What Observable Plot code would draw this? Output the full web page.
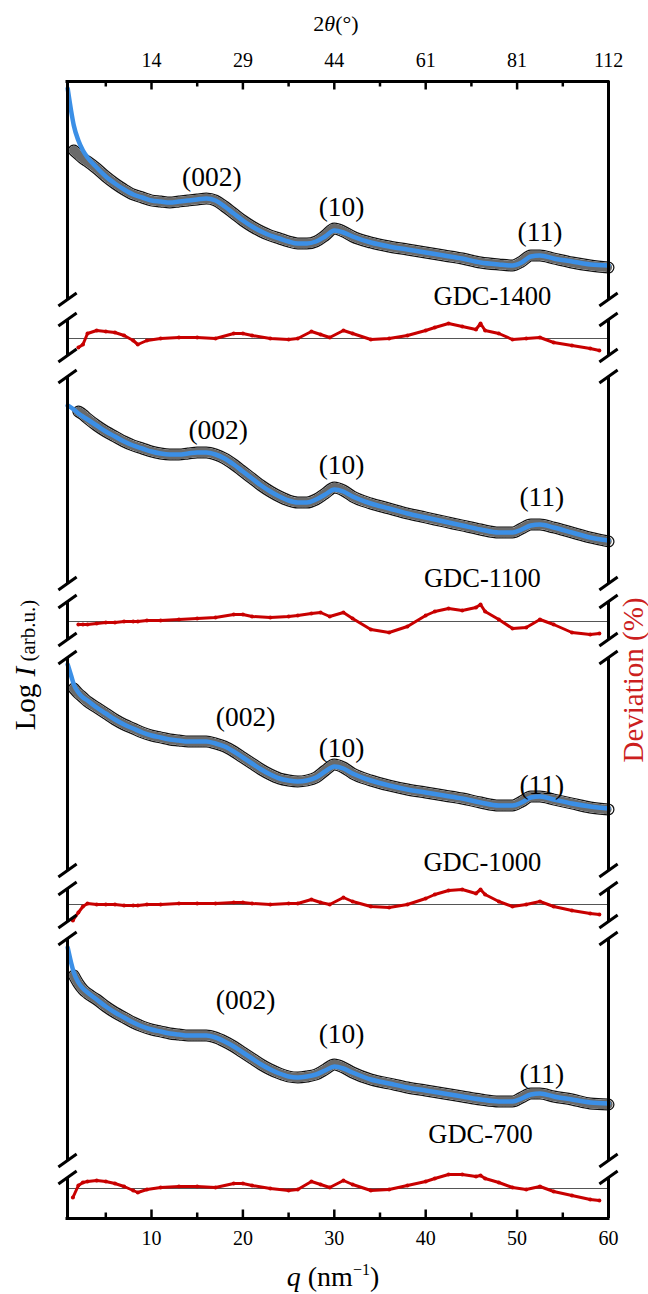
<!DOCTYPE html>
<html><head><meta charset="utf-8">
<script src="https://cdn.jsdelivr.net/npm/d3@7"></script>
<script src="https://cdn.jsdelivr.net/npm/@observablehq/plot@0.6"></script>
<style>
body{margin:0;background:#fff} svg{display:block}
svg text{font-family:"Liberation Serif","Times New Roman",serif !important}
</style>
</head><body><div id="chart"></div>
<script>
// ---------------- data ----------------
const samples = ["GDC-1400", "GDC-1100", "GDC-1000", "GDC-700"];
const peakNames = ["(002)", "(10)", "(11)"];

// q (nm^-1) grid of the fitted curves and the measured curves
const qGrid = [0.83,1.2,1.5,2,2.5,3,4,5,6,7,8,9,10,11,12,13,14,15,16,17,18,19,20,21,22,23,24,25,26,27,28,29,30,31,32,34,36,38,40,42,44,46,48,49.5,50.5,51.5,52.5,54,56,58,60];

// fitted Log I (arb. u.)
const fit1400 = [2.11,1.89,1.74,1.59,1.49,1.42,1.32,1.23,1.16,1.10,1.05,1.02,0.99,0.98,0.97,0.98,0.99,1.00,1.01,0.99,0.93,0.86,0.79,0.73,0.68,0.64,0.61,0.58,0.56,0.56,0.58,0.63,0.69,0.67,0.63,0.57,0.53,0.50,0.47,0.44,0.41,0.37,0.35,0.34,0.37,0.43,0.44,0.41,0.38,0.35,0.34];
const fit1100 = [1.78,1.76,1.74,1.70,1.67,1.64,1.58,1.52,1.47,1.42,1.38,1.35,1.32,1.30,1.29,1.29,1.30,1.31,1.31,1.29,1.25,1.19,1.12,1.05,0.98,0.92,0.87,0.83,0.81,0.81,0.84,0.89,0.94,0.92,0.87,0.80,0.75,0.70,0.66,0.62,0.58,0.54,0.51,0.51,0.54,0.58,0.59,0.56,0.51,0.46,0.43];
const fit1000 = [2.06,1.95,1.86,1.78,1.73,1.70,1.63,1.57,1.51,1.46,1.42,1.38,1.35,1.33,1.31,1.30,1.29,1.29,1.29,1.27,1.24,1.19,1.13,1.07,1.01,0.96,0.92,0.90,0.89,0.90,0.93,0.99,1.04,1.02,0.97,0.90,0.85,0.81,0.78,0.75,0.72,0.68,0.65,0.65,0.68,0.73,0.74,0.71,0.67,0.64,0.62];
const fit700  = [2.13,1.98,1.88,1.78,1.72,1.68,1.61,1.54,1.48,1.43,1.38,1.34,1.31,1.29,1.27,1.26,1.25,1.25,1.25,1.23,1.19,1.14,1.08,1.02,0.96,0.91,0.87,0.84,0.83,0.84,0.86,0.90,0.94,0.92,0.88,0.81,0.77,0.73,0.70,0.67,0.64,0.61,0.59,0.59,0.62,0.66,0.67,0.64,0.61,0.58,0.57];

// measured Log I (arb. u.), null where no data
const exp1400 = [null,null,1.49,1.45,1.41,1.38,1.31,1.23,1.16,1.10,1.05,1.02,0.99,0.98,0.97,0.98,0.99,1.00,1.01,0.99,0.93,0.86,0.79,0.73,0.68,0.64,0.61,0.58,0.56,0.56,0.58,0.64,0.71,0.68,0.63,0.57,0.53,0.50,0.47,0.44,0.41,0.37,0.35,0.34,0.38,0.44,0.44,0.41,0.37,0.34,0.32];
const exp1100 = [null,null,null,1.72,1.69,1.65,1.58,1.52,1.47,1.42,1.38,1.35,1.32,1.30,1.29,1.29,1.30,1.31,1.31,1.29,1.25,1.19,1.12,1.05,0.98,0.92,0.87,0.83,0.81,0.81,0.84,0.90,0.96,0.93,0.87,0.80,0.75,0.70,0.66,0.62,0.58,0.54,0.51,0.51,0.55,0.59,0.59,0.56,0.51,0.46,0.42];
const exp1000 = [null,null,1.82,1.77,1.73,1.69,1.63,1.57,1.51,1.46,1.42,1.38,1.35,1.33,1.31,1.30,1.29,1.29,1.29,1.27,1.24,1.19,1.13,1.07,1.01,0.96,0.92,0.90,0.89,0.90,0.93,1.00,1.06,1.03,0.97,0.90,0.85,0.81,0.78,0.75,0.72,0.68,0.65,0.65,0.69,0.74,0.74,0.71,0.67,0.63,0.61];
const exp700  = [null,null,1.85,1.77,1.71,1.67,1.61,1.54,1.48,1.43,1.38,1.34,1.31,1.29,1.27,1.26,1.25,1.25,1.25,1.23,1.19,1.14,1.08,1.02,0.96,0.91,0.87,0.84,0.83,0.84,0.86,0.91,0.96,0.93,0.88,0.81,0.77,0.73,0.70,0.67,0.64,0.61,0.59,0.59,0.63,0.67,0.67,0.64,0.61,0.57,0.56];

// deviation (%)
const qDev = [1.4,2,2.5,3,4,5,6,7,8,8.5,9.5,11,13,15,17,19,20,21,23,25,26,27.5,28.5,29.5,31,32,34,36,38,40,41,42.5,44,45.5,46,46.5,48,49.5,51,52.5,54,56,58,59];
const dev1400 = [null,-1.8,-1.2,1.0,1.6,1.4,1.2,0.6,-0.4,-1.2,-0.4,0,0.2,0.2,0,1.0,1.0,0.6,0,-0.2,0,1.4,0.8,0.2,1.6,1.0,-0.2,0,0.6,1.6,2.2,3.0,2.4,1.8,3.0,1.6,1.0,-0.2,0,0.2,-0.8,-1.4,-2.0,-2.4];
const dev1100 = [null,-0.6,-0.6,-0.6,-0.4,-0.2,-0.2,0,0,0,0.2,0.2,0.4,0.6,0.8,1.4,1.4,1.0,0.8,1.0,1.2,1.6,1.8,1.0,1.8,0.6,-1.6,-2.2,-1.0,1.2,2.0,2.6,2.2,2.8,3.4,2.0,0.4,-1.4,-1.2,0.4,-0.6,-2.2,-2.6,-2.4];
const dev1000 = [-3.2,-1.6,-0.4,0.2,0,0,0,-0.2,-0.2,-0.2,0,0,0.2,0.2,0.2,0.4,0.4,0.2,0,0.2,0.2,1.0,0.4,0,1.4,0.6,-0.4,-0.6,0,1.2,2.0,2.8,3.0,2.2,3.0,2.0,0.6,-0.4,0,0.6,-0.4,-1.2,-1.8,-2.0];
const dev700  = [-1.8,0.6,1.2,1.4,1.6,1.4,1.0,0.4,-0.4,-0.8,-0.2,0.2,0.4,0.4,0.2,1.0,1.0,0.6,0,-0.4,-0.2,1.4,0.8,0.2,1.6,0.8,-0.4,-0.2,0.6,1.4,2.0,2.8,2.8,2.4,2.6,2.0,1.2,0.2,-0.2,0.4,-0.6,-1.4,-2.2,-2.4];

// axis ticks
const qTicks = [10, 20, 30, 40, 50, 60];
const qMinor = [5, 15, 25, 35, 45, 55];
const twoThetaLabels = ["14", "29", "44", "61", "81", "112"];

// ---------------- layout (not data) ----------------
const fits = [fit1400, fit1100, fit1000, fit700];
const exps = [exp1400, exp1100, exp1000, exp700];
const devs = [dev1400, dev1100, dev1000, dev700];
const xMin = 0.81, xMax = 60, yMax = 11.37;
const panelBase = [9.19, 6.35, 3.48, 0.58];   // stacking offsets of the Log I curves
const devZero = [8.80, 5.97, 3.14, 0.30];     // stacking offsets of the deviation traces
const devScale = 0.05;                         // deviation % -> stacked units
const breaks = [9.19, 8.99, 8.63, 8.42, 6.35, 6.17, 5.79, 5.61, 3.48, 3.30, 2.97, 2.80, 0.58, 0.41];
// label placement: [q, height above panel base]
const peakPlace = [
  [[16.6, 1.22], [30.8, 0.92], [52.5, 0.67]],
  [[17.3, 1.53], [30.8, 1.18], [52.7, 0.86]],
  [[20.3, 1.53], [30.8, 1.22], [52.7, 0.85]],
  [[20.3, 1.60], [30.8, 1.26], [52.7, 0.86]]
];
const samplePlace = [[47.3, 0.03], [46.2, 0.05], [46.2, 0.08], [46.0, 0.26]];

const fitRows = [], expRows = [], devRows = [], labelRows = [];
samples.forEach((s, i) => {
  qGrid.forEach((q, j) => {
    fitRows.push({sample: s, q, y: panelBase[i] + fits[i][j]});
    if (exps[i][j] != null) expRows.push({sample: s, q, y: panelBase[i] + exps[i][j]});
  });
  qDev.forEach((q, j) => {
    if (devs[i][j] != null) devRows.push({sample: s, q, y: devZero[i] + devScale * devs[i][j]});
  });
  peakNames.forEach((p, k) => labelRows.push({text: p, q: peakPlace[i][k][0], y: panelBase[i] + peakPlace[i][k][1], size: 27.5}));
  labelRows.push({text: s, q: samplePlace[i][0], y: panelBase[i] + samplePlace[i][1], size: 26.5});
});

// axis segments with gaps at the breaks
const edges = [yMax, ...breaks, 0];
const segs = [];
for (let k = 0; k < edges.length; k += 2) {
  segs.push({x: xMin, a: edges[k], b: edges[k + 1]});
  segs.push({x: xMax, a: edges[k], b: edges[k + 1]});
}
const slashes = [];
breaks.forEach(b => [xMin, xMax].forEach(x => slashes.push({x1: x - 1.0, x2: x + 1.0, y1: b - 0.065, y2: b + 0.065})));

const serif = "Liberation Serif";
const BLUE = "#3b8fe6", RED = "#c80000";

const chart = Plot.plot({
  width: 648, height: 1294,
  marginLeft: 67, marginRight: 40, marginTop: 81, marginBottom: 76,
  x: {domain: [xMin, xMax], axis: null},
  y: {domain: [0, yMax], axis: null},
  style: {fontFamily: serif, background: "white", color: "black"},
  marks: [
    Plot.ruleY(devZero, {x1: xMin, x2: xMax, stroke: "#555", strokeWidth: 1}),
    // measured data: dense open circles
    Plot.line(expRows, {x: "q", y: "y", z: "sample", curve: "monotone-x", stroke: "#111", strokeWidth: 12, strokeLinecap: "round", strokeLinejoin: "round"}),
    Plot.line(expRows, {x: "q", y: "y", z: "sample", curve: "monotone-x", stroke: "#fff", strokeWidth: 9.5, strokeLinecap: "round", strokeLinejoin: "round"}),
    Plot.line(expRows, {x: "q", y: "y", z: "sample", curve: "monotone-x", stroke: "#6a6a6a", strokeWidth: 9.5, strokeDasharray: "0.8 2"}),
    // fit
    Plot.line(fitRows, {x: "q", y: "y", z: "sample", curve: "monotone-x", stroke: BLUE, strokeWidth: 4.5}),
    // deviation
    Plot.line(devRows, {x: "q", y: "y", z: "sample", curve: "linear", stroke: RED, strokeWidth: 3}),
    Plot.dot(devRows, {x: "q", y: "y", r: 2, fill: RED}),
    // frame
    Plot.ruleY([0, yMax], {x1: xMin, x2: xMax, strokeWidth: 3, strokeLinecap: "square"}),
    Plot.ruleX(segs, {x: "x", y1: "a", y2: "b", strokeWidth: 3}),
    Plot.link(slashes, {x1: "x1", y1: "y1", x2: "x2", y2: "y2", strokeWidth: 3}),
    // ticks (inward)
    Plot.ruleX(qTicks, {x: d => d, y1: 0, y2: 0.085, strokeWidth: 2.5}),
    Plot.ruleX(qMinor, {x: d => d, y1: 0, y2: 0.055, strokeWidth: 2.5}),
    Plot.ruleX(qTicks, {x: d => d, y1: yMax, y2: yMax - 0.085, strokeWidth: 2.5}),
    Plot.ruleX(qMinor, {x: d => d, y1: yMax, y2: yMax - 0.055, strokeWidth: 2.5}),
    Plot.text(qTicks, {x: d => d, y: 0, dy: 20, text: d => String(d), fontSize: 20, fontFamily: serif}),
    Plot.text(qTicks, {x: d => d, y: yMax, dy: -21, text: (d, i) => twoThetaLabels[i], fontSize: 20, fontFamily: serif}),
    // labels
    Plot.text(labelRows, {x: "q", y: "y", text: "text", fontSize: d => d.size, fontFamily: serif})
  ]
});
document.getElementById("chart").appendChild(chart);

// axis titles with mixed styling
const svg = d3.select(chart);
const addText = (x, y, parts, opts = {}) => {
  const t = svg.append("text").attr("x", x).attr("y", y).attr("text-anchor", "middle")
    .attr("font-family", serif).attr("fill", opts.fill || "black");
  if (opts.rotate) t.attr("transform", `rotate(-90 ${x} ${y})`);
  parts.forEach(p => {
    const s = t.append("tspan").text(p.t).attr("font-size", p.size);
    if (p.italic) s.attr("font-style", "italic");
    if (p.dy) s.attr("dy", p.dy);
  });
  return t;
};
addText(336, 31, [{t: "2", size: 22}, {t: "θ", size: 22, italic: true}, {t: "(°)", size: 22}]);
addText(333, 1286, [{t: "q", size: 28, italic: true}, {t: " (nm", size: 28}, {t: "−1", size: 16, dy: -11}, {t: ")", size: 28, dy: 11}]);
addText(35, 665, [{t: "Log ", size: 29}, {t: "I", size: 29, italic: true}, {t: " (arb.u.)", size: 21}], {rotate: true});
addText(643, 680, [{t: "Deviation (%)", size: 29}], {rotate: true, fill: "#cc1f1f"});
</script>
</body></html>
